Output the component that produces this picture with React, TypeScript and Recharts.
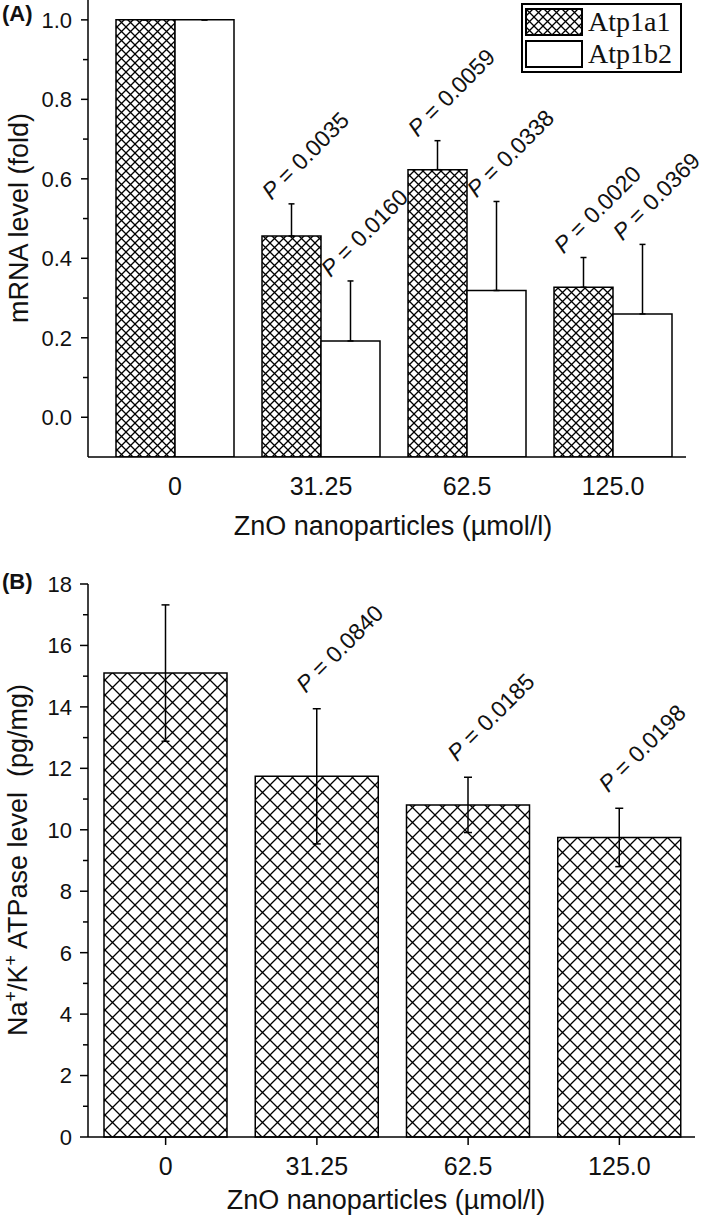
import { BarChart, Bar, XAxis, YAxis, ErrorBar, LabelList, Legend } from 'recharts'

const SANS = '"Liberation Sans", Arial, sans-serif'
const SERIF = '"Liberation Serif", "Times New Roman", serif'

const DOSES = ['0', '31.25', '62.5', '125.0']

// panel A - mRNA (fold)
const SERIES_A = ['Atp1a1', 'Atp1b2']
const ATP1A1 = [1.0, 0.456, 0.623, 0.327]
const ATP1A1_SD = [0, 0.081, 0.073, 0.075]
const ATP1A1_P = ['', '0.0035', '0.0059', '0.0020']
const ATP1B2 = [1.0, 0.192, 0.319, 0.26]
const ATP1B2_SD = [0, 0.151, 0.224, 0.175]
const ATP1B2_P = ['', '0.0160', '0.0338', '0.0369']
const Y_TICKS_A = [0, 0.2, 0.4, 0.6, 0.8, 1.0]
const Y_MINOR_A = [0.1, 0.3, 0.5, 0.7, 0.9]
const A_FLOOR = -0.1
const A_CEIL = 1.05

// panel B - Na+/K+ ATPase (pg/mg)
const ATPASE = [15.1, 11.74, 10.81, 9.75]
const ATPASE_SD = [2.22, 2.2, 0.9, 0.95]
const ATPASE_P = ['', '0.0840', '0.0185', '0.0198']
const Y_TICKS_B = [0, 2, 4, 6, 8, 10, 12, 14, 16, 18]
const Y_MINOR_B = [1, 3, 5, 7, 9, 11, 13, 15, 17]

const dataA = DOSES.map((dose, i) => ({
  dose,
  a1: [A_FLOOR, ATP1A1[i]],
  b2: [A_FLOOR, ATP1B2[i]],
  a1Sd: [0, ATP1A1_SD[i]],
  b2Sd: [0, ATP1B2_SD[i]],
  a1P: ATP1A1_P[i],
  b2P: ATP1B2_P[i],
}))

const dataB = DOSES.map((dose, i) => ({
  dose,
  level: ATPASE[i],
  sd: ATPASE_SD[i],
  p: ATPASE_P[i],
}))

const FILL_A: Record<string, string> = { Atp1a1: 'url(#hatchA)', Atp1b2: '#fff' }

function Hatch({ id, size, width }: { id: string; size: number; width: number }) {
  return (
    <pattern id={id} patternUnits="userSpaceOnUse" width={size} height={size}>
      <rect width={size} height={size} fill="#fff" />
      <path d={`M0,0 L${size},${size} M${size},0 L0,${size}`} stroke="#000" strokeWidth={width} />
    </pattern>
  )
}

const makeYTick = (majors: number[], digits: number, major: number, minor: number) =>
  // eslint-disable-next-line @typescript-eslint/no-explicit-any
  (props: any) => {
    const { x, y, payload } = props
    const isMajor = majors.includes(payload.value)
    return (
      <g>
        <line x1={x} x2={x - (isMajor ? major : minor)} y1={y} y2={y} stroke="#000" strokeWidth={1.5} />
        {isMajor && (
          <text x={x - 16} y={y} dy="0.36em" textAnchor="end" fontSize={22} fontFamily={SANS} fill="#111">
            {payload.value.toFixed(digits)}
          </text>
        )}
      </g>
    )
  }

const makeXTick = (tickLen: number) =>
  // eslint-disable-next-line @typescript-eslint/no-explicit-any
  (props: any) => {
    const { x, y, payload } = props
    return (
      <g>
        {tickLen > 0 && <line x1={x} x2={x} y1={y} y2={y + tickLen} stroke="#000" strokeWidth={1.5} />}
        <text x={x} y={y + 38} textAnchor="middle" fontSize={25} fontFamily={SANS} fill="#111">
          {payload.value}
        </text>
      </g>
    )
  }

// P value sits just above the error bar, rotated 45 degrees
const pLabel = (vals: number[], sds: number[], floor: number, dx: number, dy: number) =>
  // eslint-disable-next-line @typescript-eslint/no-explicit-any
  (props: any) => {
    const { index, value } = props
    if (!value) return null
    const vb = props.viewBox ?? props
    const { x, y, width, height } = vb
    const unit = Math.abs(height) / (vals[index] - floor)
    const ax = x + width / 2 + dx
    const ay = Math.min(y, y + height) - sds[index] * unit + dy
    return (
      <text
        x={ax}
        y={ay}
        transform={`rotate(-45 ${ax} ${ay})`}
        fontSize={23}
        fontFamily={SANS}
        fill="#111"
      >
        <tspan fontStyle="italic">P</tspan> = {value}
      </text>
    )
  }

// eslint-disable-next-line @typescript-eslint/no-explicit-any
const renderLegend = (props: any) => {
  const items = (props.payload ?? []).filter((e: any) => SERIES_A.includes(e.value))
  return (
    <div style={{ border: '2px solid #000', background: '#fff', width: 155, padding: '1px 0 1px 2px', fontFamily: SERIF, fontSize: 28, color: '#111' }}>
      {items.map((entry: any) => (
        <div key={entry.value} style={{ display: 'flex', alignItems: 'center', height: 32 }}>
          <svg width={58} height={28} style={{ display: 'block' }}>
            <rect x={1} y={1} width={56} height={26} fill={FILL_A[entry.value]} stroke="#000" strokeWidth={2} />
          </svg>
          <span style={{ marginLeft: 5, lineHeight: 1 }}>{entry.value}</span>
        </div>
      ))}
    </div>
  )
}

export default function App() {
  return (
    <div style={{ position: 'absolute', left: 0, top: 0, width: 709, height: 1219, background: '#fff', fontFamily: SANS }}>
      <BarChart width={709} height={560} data={dataA} margin={{ top: 0, right: 23, bottom: 0, left: 0 }} barGap={0}>
        <defs>
          <Hatch id="hatchA" size={9} width={1.3} />
        </defs>
        <XAxis
          dataKey="dose"
          height={103}
          padding={{ left: 14, right: 0 }}
          axisLine={{ stroke: '#000', strokeWidth: 1.5 }}
          tickLine={false}
          tickSize={0}
          tickMargin={0}
          tick={makeXTick(0)}
          label={{
            content: () => (
              <text x={393} y={535} textAnchor="middle" fontSize={27} fontFamily={SANS} fill="#111">
                ZnO nanoparticles (µmol/l)
              </text>
            ),
          }}
        />
        <YAxis
          width={88}
          type="number"
          domain={[A_FLOOR, A_CEIL]}
          ticks={[...Y_TICKS_A, ...Y_MINOR_A].sort((a, b) => a - b)}
          interval={0}
          allowDataOverflow
          axisLine={{ stroke: '#000', strokeWidth: 1.5 }}
          tickLine={false}
          tickSize={0}
          tickMargin={0}
          tick={makeYTick(Y_TICKS_A, 1, 7, 5)}
          label={{
            content: () => (
              <g fontFamily={SANS} fill="#111">
                <text x={2} y={21} fontSize={22} fontWeight="bold">(A)</text>
                <text x={28} y={218} transform="rotate(-90 28 218)" textAnchor="middle" fontSize={27}>
                  mRNA level (fold)
                </text>
              </g>
            ),
          }}
        />
        <Legend
          layout="vertical"
          verticalAlign="middle"
          align="center"
          wrapperStyle={{ left: 521, top: 3, width: 159 }}
          content={renderLegend}
        />
        <Bar dataKey="a1" name="Atp1a1" barSize={59} fill="url(#hatchA)" stroke="#000" strokeWidth={1.5} isAnimationActive={false}>
          <ErrorBar dataKey="a1Sd" width={3} stroke="#000" strokeWidth={1.5} direction="y" />
          <LabelList dataKey="a1P" content={pLabel(ATP1A1, ATP1A1_SD, A_FLOOR, -20, -3)} />
        </Bar>
        <Bar dataKey="b2" name="Atp1b2" barSize={59} fill="#fff" stroke="#000" strokeWidth={1.5} isAnimationActive={false}>
          <ErrorBar dataKey="b2Sd" width={3} stroke="#000" strokeWidth={1.5} direction="y" />
          <LabelList dataKey="b2P" content={pLabel(ATP1B2, ATP1B2_SD, A_FLOOR, -20, -3)} />
        </Bar>
      </BarChart>

      <BarChart width={709} height={659} data={dataB} margin={{ top: 24, right: 14, bottom: 0, left: 0 }}>
        <defs>
          <Hatch id="hatchB" size={15} width={1.3} />
        </defs>
        <XAxis
          dataKey="dose"
          height={82}
          padding={{ left: 2, right: 0 }}
          axisLine={{ stroke: '#000', strokeWidth: 1.5 }}
          tickLine={false}
          tickSize={0}
          tickMargin={0}
          tick={makeXTick(8)}
          label={{
            content: () => (
              <text x={386} y={649} textAnchor="middle" fontSize={27} fontFamily={SANS} fill="#111">
                ZnO nanoparticles (µmol/l)
              </text>
            ),
          }}
        />
        <YAxis
          width={88}
          type="number"
          domain={[0, 18]}
          ticks={[...Y_TICKS_B, ...Y_MINOR_B].sort((a, b) => a - b)}
          interval={0}
          axisLine={{ stroke: '#000', strokeWidth: 1.5 }}
          tickLine={false}
          tickSize={0}
          tickMargin={0}
          tick={makeYTick(Y_TICKS_B, 0, 8, 5)}
          label={{
            content: () => (
              <g fontFamily={SANS} fill="#111">
                <text x={2} y={29} fontSize={22} fontWeight="bold">(B)</text>
                <text x={27} y={300} transform="rotate(-90 27 300)" textAnchor="middle" fontSize={27}>
                  Na<tspan dy={-10} fontSize={18}>+</tspan>
                  <tspan dy={10}>/K</tspan>
                  <tspan dy={-10} fontSize={18}>+</tspan>
                  <tspan dy={10}>{' ATPase level\u00a0 (pg/mg)'}</tspan>
                </text>
              </g>
            ),
          }}
        />
        <Bar dataKey="level" barSize={123} fill="url(#hatchB)" stroke="#000" strokeWidth={1.5} isAnimationActive={false}>
          <ErrorBar dataKey="sd" width={4} stroke="#000" strokeWidth={1.5} direction="y" />
          <LabelList dataKey="p" content={pLabel(ATPASE, ATPASE_SD, 0, -11, -15)} />
        </Bar>
      </BarChart>
    </div>
  )
}
